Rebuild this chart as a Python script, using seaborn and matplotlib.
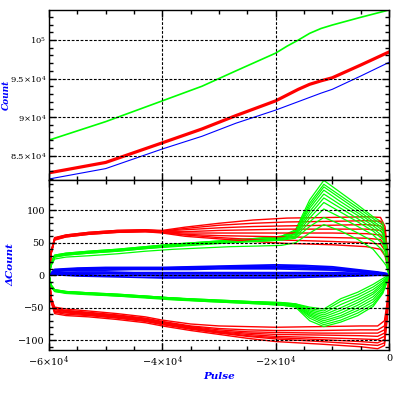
import matplotlib
matplotlib.use("Agg")
import numpy as np
import pandas as pd
import matplotlib.pyplot as plt
import seaborn as sns
from matplotlib.ticker import MultipleLocator, FixedLocator

sns.set_theme(style="white")
plt.rcParams['font.family'] = ['DejaVu Serif', 'DejaVu Sans']
plt.rcParams['mathtext.fontset'] = 'dejavuserif'

# ---------------- top panel data ----------------
top_x = [-60000, -50000, -40000, -33000, -27000, -20000, -18000, -16000, -14000, -12000, -10000, -5000, 0]
top_green = [87000, 89400, 92100, 94000, 96000, 98300, 99200, 100000, 100870, 101500, 101950, 102950, 103900]
top_red = [82750, 84100, 86650, 88450, 90190, 92100, 92850, 93600, 94250, 94700, 95100, 96750, 98450]
top_blue = [81950, 83300, 85850, 87500, 89200, 90900, 91450, 92000, 92550, 93100, 93600, 95320, 97100]

top_yticks = [85000, 90000, 95000, 100000]
top_ylabels = [r'$8.5{\times}10^{4}$', r'$9{\times}10^{4}$', r'$9.5{\times}10^{4}$', r'$10^{5}$']

# ---------------- bottom panel data ----------------
red_upper_x = [-60000, -59600, -59000, -57000, -53000, -48000, -43000, -40000, -36000,
               -30000, -24000, -18000, -10000, -4000, -1500, -700, -200, 0]
red_upper_runs = [
    [0, 38, 58, 62, 66, 69, 70, 69, 74, 80, 85, 88, 89, 90, 89, 75, 30, 0],
    [0, 37, 57, 62, 66, 69, 70, 68, 72, 77, 80, 82, 83, 84, 83, 70, 28, 0],
    [0, 36, 57, 61, 65, 68, 69, 68, 70, 73, 75, 76, 77, 78, 76, 65, 25, 0],
    [0, 36, 56, 61, 65, 68, 69, 67, 67, 69, 70, 71, 71, 71, 69, 58, 22, 0],
    [0, 35, 56, 60, 64, 67, 68, 67, 65, 65, 65, 65, 65, 64, 62, 52, 20, 0],
    [0, 35, 55, 60, 64, 67, 68, 66, 63, 61, 60, 59, 58, 57, 55, 45, 17, 0],
    [0, 34, 55, 59, 63, 66, 67, 66, 62, 58, 55, 54, 52, 50, 48, 38, 14, 0],
    [0, 34, 54, 59, 63, 66, 67, 65, 60, 56, 52, 49, 47, 44, 40, 30, 12, 0],
]

red_lower_x = [-60000, -59600, -59000, -57000, -53000, -48000, -43000, -40000, -35000,
               -30000, -25000, -20000, -12000, -5000, -2000, -800, -300, 0]
red_lower_runs = [
    [0, -35, -49, -52, -55, -59, -64, -69, -75, -78, -79, -80, -79, -78, -78, -70, -40, 0],
    [0, -36, -51, -54, -57, -61, -66, -71, -78, -82, -84, -85, -85, -84, -84, -78, -45, 0],
    [0, -37, -52, -55, -58, -62, -67, -72, -79, -84, -87, -88, -89, -89, -89, -84, -50, 0],
    [0, -38, -53, -56, -59, -63, -68, -73, -80, -86, -89, -91, -92, -93, -94, -89, -55, 0],
    [0, -39, -55, -57, -60, -64, -69, -74, -81, -87, -91, -94, -96, -98, -99, -94, -58, 0],
    [0, -40, -56, -58, -61, -65, -70, -75, -82, -88, -93, -96, -99, -102, -104, -99, -60, 0],
    [0, -41, -57, -60, -62, -66, -71, -76, -83, -89, -94, -98, -102, -106, -108, -104, -62, 0],
    [0, -42, -59, -62, -64, -68, -73, -78, -85, -91, -97, -102, -106, -110, -113, -108, -65, 0],
]

green_x = [-60000, -59600, -59000, -57000, -53000, -48000, -43000, -38000, -33000, -28000,
           -23000, -19000, -16500, -14000, -11500, -8500, -5500, -2800, -1100, -500, 0]
green_upper_runs = [
    [0, 20, 31, 34, 37, 40, 44, 48, 51, 54, 57, 60, 70, 116, 146, 127, 108, 90, 81, 55, 0],
    [0, 20, 31, 34, 37, 40, 44, 48, 51, 54, 57, 60, 68, 111, 140, 122, 104, 87, 77, 52, 0],
    [0, 19, 30, 33, 36, 39, 43, 47, 50, 53, 56, 59, 67, 107, 136, 118, 100, 83, 73, 49, 0],
    [0, 19, 30, 33, 36, 39, 43, 47, 50, 53, 56, 59, 66, 103, 131, 113, 96, 80, 69, 46, 0],
    [0, 19, 30, 33, 36, 39, 43, 46, 49, 52, 55, 58, 64, 98, 125, 108, 92, 76, 65, 43, 0],
    [0, 18, 29, 32, 35, 38, 42, 46, 49, 52, 55, 57, 63, 93, 119, 103, 87, 72, 60, 40, 0],
    [0, 18, 29, 32, 35, 38, 42, 45, 48, 51, 54, 56, 61, 88, 112, 97, 82, 68, 55, 36, 0],
    [0, 18, 28, 31, 34, 37, 41, 45, 48, 51, 53, 55, 59, 82, 102, 89, 75, 62, 48, 32, 0],
    [0, 17, 28, 31, 34, 37, 41, 44, 47, 50, 52, 54, 57, 75, 89, 78, 65, 52, 38, 26, 0],
    [0, 15, 25, 28, 30, 33, 37, 40, 42, 44, 45, 46, 50, 65, 78, 68, 55, 40, 22, 15, 0],
]
green_lower_runs = [
    [0, -15, -22, -25, -27, -29, -32, -35, -37, -39, -41, -42, -44, -49, -52, -36, -26, -14, -5, -2, 0],
    [0, -15, -22, -25, -27, -29, -32, -35, -37, -39, -41, -42, -44, -51, -55, -40, -30, -18, -8, -4, 0],
    [0, -16, -23, -25, -27, -30, -32, -35, -38, -40, -41, -43, -45, -53, -58, -45, -34, -22, -11, -5, 0],
    [0, -16, -23, -26, -28, -30, -33, -35, -38, -40, -42, -43, -45, -55, -61, -50, -38, -26, -13, -6, 0],
    [0, -16, -23, -26, -28, -30, -33, -36, -38, -40, -42, -44, -46, -57, -64, -54, -42, -29, -16, -8, 0],
    [0, -17, -24, -26, -28, -31, -33, -36, -39, -41, -42, -44, -46, -59, -67, -58, -46, -33, -19, -9, 0],
    [0, -17, -24, -27, -29, -31, -34, -36, -39, -41, -43, -45, -47, -61, -70, -62, -50, -37, -21, -10, 0],
    [0, -17, -24, -27, -29, -31, -34, -37, -39, -41, -43, -45, -47, -63, -73, -65, -54, -41, -24, -12, 0],
    [0, -18, -25, -27, -29, -32, -34, -37, -40, -42, -44, -46, -48, -66, -76, -69, -58, -45, -26, -13, 0],
    [0, -18, -25, -28, -30, -32, -35, -38, -40, -42, -44, -46, -49, -70, -79, -72, -62, -48, -28, -14, 0],
]

blue_x = [-60000, -59000, -55000, -50000, -45000, -40000, -35000, -30000, -25000, -20000,
          -15000, -10000, -5000, -2000, -500, 0]
blue_runs = [
    [0, 9, 11, 12, 12, 12, 13, 14, 15, 16, 15, 13, 8, 5, 3, 0],
    [0, 8, 10, 11, 11, 11, 12, 13, 13, 14, 13, 11, 7, 4, 2, 0],
    [0, 7, 9, 10, 10, 10, 11, 11, 12, 12, 11, 10, 6, 4, 2, 0],
    [0, 6, 8, 8, 9, 9, 9, 10, 10, 10, 9, 8, 5, 3, 1, 0],
    [0, 4, 5, 5, 4, 4, 4, 4, 4, 4, 4, 4, 3, 2, 1, 0],
    [0, 3, 3, 3, 2, 2, 2, 2, 2, 2, 2, 2, 2, 1, 1, 0],
    [0, 2, 1, 0, 0, -1, -1, -1, -1, -1, -1, 0, 1, 1, 0, 0],
    [0, 1, -1, -2, -3, -4, -4, -4, -4, -4, -3, -2, -1, 0, 0, 0],
]

bot_yticks = [-100, -50, 0, 50, 100]
bot_ylabels = ['\u2212100', '\u221250', '0', '50', '100']
x_ticks = [-60000, -40000, -20000, 0]
x_labels = [r'$-6{\times}10^{4}$', r'$-4{\times}10^{4}$', r'$-2{\times}10^{4}$', '0']

# ---------------- build frames ----------------
top_df = pd.DataFrame({'pulse': top_x * 3,
                       'count': top_green + top_red + top_blue,
                       'series': ['green'] * len(top_x) + ['red'] * len(top_x) + ['blue'] * len(top_x)})

rows = []
groups = [('red', red_upper_x, red_upper_runs), ('red', red_lower_x, red_lower_runs),
          ('green', green_x, green_upper_runs), ('green', green_x, green_lower_runs),
          ('blue', blue_x, blue_runs)]
for gi, (col, xs, runs) in enumerate(groups):
    for ri, ys in enumerate(runs):
        for xv, yv in zip(xs, ys):
            rows.append((xv, yv, col, f'{gi}_{ri}', ri * 10 + gi))
bot_df = pd.DataFrame(rows, columns=['pulse', 'dcount', 'series', 'run', 'order'])

palette = {'red': '#ff0000', 'green': '#00ff00', 'blue': '#0000ff'}

# ---------------- figure ----------------
W = 399
fig = plt.figure(figsize=(W / 100, W / 100), dpi=100)
fig.patch.set_facecolor('white')
ax1 = fig.add_axes([49 / W, 1 - 180 / W, 340 / W, 170 / W])
ax2 = fig.add_axes([49 / W, 1 - 350 / W, 340 / W, 170 / W])

top_lw = {'green': 1.2, 'red': 2.3, 'blue': 0.8}
for s in ['green', 'red', 'blue']:
    sns.lineplot(data=top_df[top_df.series == s], x='pulse', y='count', color=palette[s],
                 lw=top_lw[s], ax=ax1, legend=False, estimator=None, sort=False)

bot_lw = {'red': 1.0, 'green': 0.9, 'blue': 1.3}
for key in sorted(bot_df.run.unique(), key=lambda k: bot_df[bot_df.run == k].order.iloc[0]):
    sub = bot_df[bot_df.run == key]
    s = sub.series.iloc[0]
    sns.lineplot(data=sub, x='pulse', y='dcount', color=palette[s], lw=bot_lw[s],
                 ax=ax2, legend=False, estimator=None, sort=False)

for ax in (ax1, ax2):
    ax.set_xlim(-60000, 0)
    ax.set_facecolor('white')
    for sp in ax.spines.values():
        sp.set_color('black')
        sp.set_linewidth(1.0)
        sp.set_visible(True)
    ax.xaxis.set_major_locator(FixedLocator(x_ticks))
    ax.xaxis.set_minor_locator(MultipleLocator(5000))
    ax.tick_params(which='both', direction='in', top=True, right=True, bottom=True, left=True,
                   colors='black', width=1.0)
    ax.tick_params(which='major', length=5)
    ax.tick_params(which='minor', length=3)
    ax.grid(True, which='major', color='black', linestyle=(0, (2.5, 1.5)), linewidth=0.8)
    ax.set_axisbelow(False)

ax1.set_ylim(81820, 103900)
ax1.yaxis.set_major_locator(FixedLocator(top_yticks))
ax1.yaxis.set_minor_locator(MultipleLocator(1000))
ax1.set_yticklabels(top_ylabels, fontsize=6)
ax1.set_xticklabels([])
ax1.set_xlabel('')
ax1.set_ylabel('Count', color='blue', fontsize=6.5, fontweight='bold', fontstyle='italic')
ax1.yaxis.set_label_coords(-0.112, 0.5)

ax2.set_ylim(-115, 146.6)
ax2.yaxis.set_major_locator(FixedLocator(bot_yticks))
ax2.yaxis.set_minor_locator(MultipleLocator(10))
ax2.set_yticklabels(bot_ylabels, fontsize=7)
ax2.set_xticklabels(x_labels, fontsize=7)
ax2.set_xlabel('Pulse', color='blue', fontsize=7.5, fontstyle='italic', fontweight='bold', labelpad=2)
ax2.set_ylabel('\u0394Count', color='blue', fontsize=7.5, fontstyle='italic', fontweight='bold')
ax2.yaxis.set_label_coords(-0.1, 0.5)
ax1.tick_params(axis='y', pad=2)
ax2.tick_params(axis='both', pad=3)

fig.savefig('out.png', dpi=100, facecolor='white')
